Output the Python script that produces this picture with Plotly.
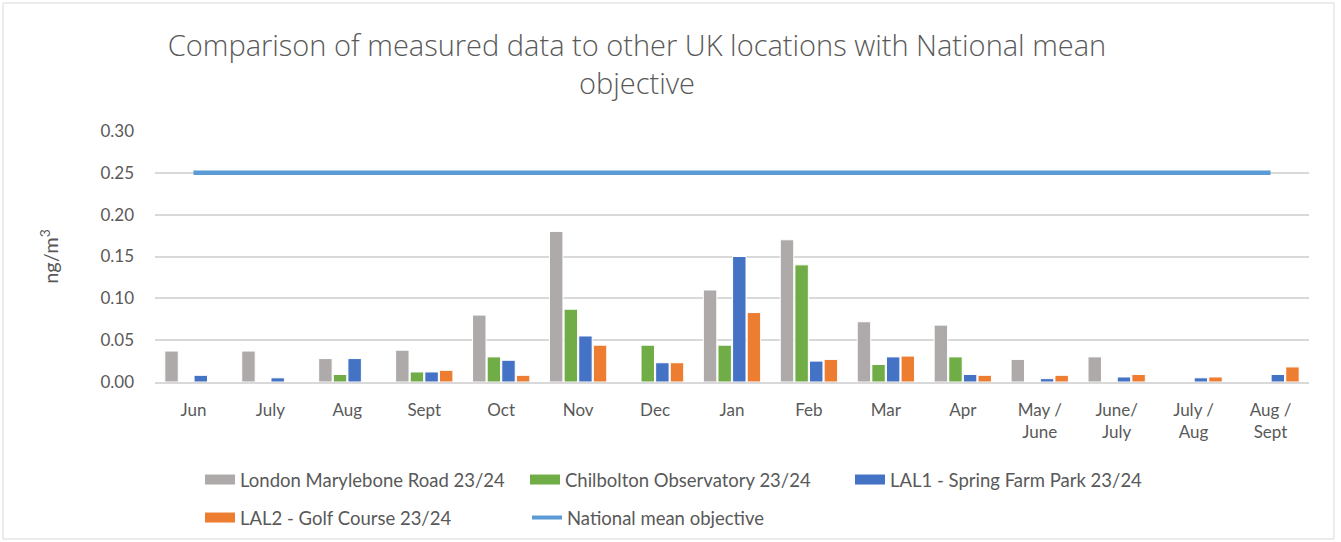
import plotly.graph_objects as go

categories = ["Jun", "July", "Aug", "Sept", "Oct", "Nov", "Dec", "Jan", "Feb", "Mar", "Apr",
              "May /<br>June", "June/<br>July", "July /<br>Aug", "Aug /<br>Sept"]
london = [0.037, 0.037, 0.028, 0.038, 0.080, 0.180, None, 0.110, 0.170, 0.072, 0.068, 0.027, 0.030, None, None]
chilbolton = [None, None, 0.009, 0.012, 0.030, 0.087, 0.044, 0.044, 0.140, 0.021, 0.030, None, None, None, None]
lal1 = [0.008, 0.005, 0.028, 0.012, 0.026, 0.055, 0.023, 0.150, 0.025, 0.030, 0.009, 0.004, 0.006, 0.005, 0.009]
lal2 = [None, None, None, 0.014, 0.008, 0.044, 0.023, 0.083, 0.027, 0.031, 0.008, 0.008, 0.009, 0.006, 0.018]
national = [0.25] * len(categories)

names = ["London Marylebone Road 23/24", "Chilbolton Observatory 23/24",
         "LAL1 - Spring Farm Park 23/24", "LAL2 - Golf Course 23/24"]
colors = ["#AEAAAA", "#70AD47", "#4472C4", "#ED7D31"]
series = [london, chilbolton, lal1, lal2]
line_name = "National mean objective"
line_color = "#5B9BD5"

FONT = "Lato"
TXT = "#595959"

fig = go.Figure()
for nm, col, vals in zip(names, colors, series):
    fig.add_trace(go.Bar(x=categories, y=vals, name=nm, marker=dict(color=col, line=dict(color="white", width=1)),
                         showlegend=False))
fig.add_trace(go.Scatter(x=categories, y=national, name=line_name, mode="lines",
                         line=dict(color=line_color, width=4.5), showlegend=False))

# legend entries
for i, (nm, col) in enumerate(zip(names, colors)):
    fig.add_trace(go.Scatter(x=[None], y=[None], mode="lines", name=nm,
                             line=dict(color=col, width=10),
                             legend="legend" if i < 3 else "legend2"))
fig.add_trace(go.Scatter(x=[None], y=[None], mode="lines", name=line_name,
                         line=dict(color=line_color, width=4), legend="legend2"))

L, R, T, B = 155, 32, 131, 160
W = 1341 - L - R
H = 542 - T - B

def px(x):
    return (x - L) / W

def py(y):
    return (542 - B - y) / H

fig.update_layout(
    width=1341, height=542,
    margin=dict(l=L, r=R, t=T, b=B, autoexpand=False),
    paper_bgcolor="white", plot_bgcolor="white",
    barmode="group", bargap=0.24, bargroupgap=0.08,
    font=dict(family=FONT, color=TXT, size=17),
    title=dict(text="Comparison of measured data to other UK locations with National mean<br>objective",
               x=637 / 1341, xanchor="center", y=1 - 56 / 542, yanchor="middle",
               font=dict(family="Open Sans", size=29, color=TXT, weight=300)),
    xaxis=dict(showgrid=False, showline=True, linecolor="#D9D9D9", linewidth=1.5,
               tickfont=dict(size=17, color=TXT), ticklabelstandoff=12),
    yaxis=dict(range=[0, 0.30], dtick=0.05, tickformat=".2f", showgrid=True,
               gridcolor="#D9D9D9", gridwidth=1.5, zeroline=False,
               tickfont=dict(size=17, color=TXT), ticklabelstandoff=20,
               title=dict(text="ng/m<sup>3</sup>", font=dict(size=20, color=TXT), standoff=36)),
    legend=dict(orientation="h", x=px(200), xanchor="left", y=py(480), yanchor="middle",
                font=dict(size=18.5, color=TXT), itemwidth=30, entrywidth=280, entrywidthmode="pixels",
                bgcolor="rgba(0,0,0,0)"),
    legend2=dict(orientation="h", x=px(200), xanchor="left", y=py(518), yanchor="middle",
                 font=dict(size=18.5, color=TXT), itemwidth=30, entrywidth=282, entrywidthmode="pixels",
                 bgcolor="rgba(0,0,0,0)"),
    shapes=[dict(type="rect", xref="paper", yref="paper",
                 x0=px(3), x1=px(1334), y0=py(539), y1=py(3),
                 line=dict(color="#D9D9D9", width=1), fillcolor="rgba(0,0,0,0)", layer="below")],
)

fig.write_html("out.html", config={"displayModeBar": False},
               post_script="document.body.style.margin='0';")
